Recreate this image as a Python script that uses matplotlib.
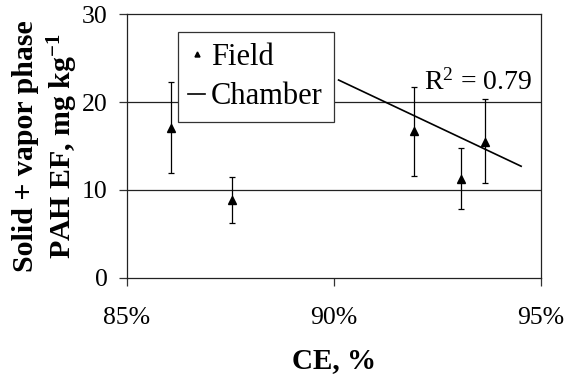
import matplotlib
matplotlib.use('Agg')
from matplotlib import pyplot as plt
from matplotlib.ticker import PercentFormatter

# field measurements: combustion efficiency vs PAH emission factor
field_ce = [0.8606, 0.8754, 0.9193, 0.9306, 0.9365]
field_ef = [17.1, 8.9, 16.7, 11.3, 15.5]
field_err_lo = [5.2, 2.7, 5.1, 3.5, 4.7]
field_err_hi = [5.2, 2.6, 5.0, 3.5, 4.8]

# chamber regression line
chamber_ce = [0.9011, 0.9452]
chamber_ef = [22.5, 12.7]
chamber_r2 = 0.79

plt.rcParams['font.family'] = 'Liberation Serif'
plt.rcParams['mathtext.fontset'] = 'custom'
plt.rcParams['mathtext.rm'] = 'Liberation Serif'
plt.rcParams['mathtext.bf'] = 'Liberation Serif:bold'
plt.rcParams['mathtext.default'] = 'regular'


def main():
    fig = plt.figure(figsize=(5.68, 3.83), dpi=100)
    ax = fig.add_axes([0.2236, 0.2742, 0.7289, 0.6892])

    ax.errorbar(field_ce, field_ef, yerr=[field_err_lo, field_err_hi],
                fmt='^', color='black', markersize=6, ecolor='black',
                elinewidth=0.9, capsize=2.5, capthick=0.9, label='Field', zorder=3)
    ax.plot(chamber_ce, chamber_ef, color='black', lw=1.2, label='Chamber')
    ax.text(0.9348, 22.2, 'R$^{2}$ = %.2f' % chamber_r2, fontsize=20,
            ha='center', va='center')

    ax.set_xlim(0.85, 0.95)
    ax.set_ylim(0, 30)
    ax.set_xticks([0.85, 0.90, 0.95])
    ax.set_yticks([0, 10, 20, 30])
    ax.xaxis.set_major_formatter(PercentFormatter(xmax=1, decimals=0))
    ax.tick_params(labelsize=18.5, direction='out', length=6, width=0.9,
                   color='#333333')
    ax.tick_params(axis='x', pad=15)
    ax.tick_params(axis='y', pad=8)
    for s in ax.spines.values():
        s.set_linewidth(0.9)
        s.set_color('#222222')
    for yv in (10, 20):
        ax.axhline(yv, color='#222222', lw=0.9, zorder=0)

    ax.set_xlabel('CE, %', fontsize=21, fontweight='bold', labelpad=13)
    ax.set_ylabel('Solid + vapor phase\nPAH EF, mg kg$^{-1}$', fontsize=21.5,
                  fontweight='bold', labelpad=1, linespacing=1.28)

    handles, labels = ax.get_legend_handles_labels()
    handles = [h[0] if isinstance(h, tuple) else h for h in handles]
    order = [labels.index('Field'), labels.index('Chamber')]
    leg = ax.legend([handles[i] for i in order], [labels[i] for i in order],
                    loc='upper left', bbox_to_anchor=(0.122, 0.932),
                    fontsize=22, fancybox=False, framealpha=1,
                    edgecolor='#333333', handlelength=0.55, handletextpad=0.2,
                    borderpad=0.35, labelspacing=0.35, borderaxespad=0,
                    markerscale=0.6)
    leg.get_frame().set_linewidth(0.9)

    fig.savefig('out.png', dpi=100)


if __name__ == '__main__':
    main()
